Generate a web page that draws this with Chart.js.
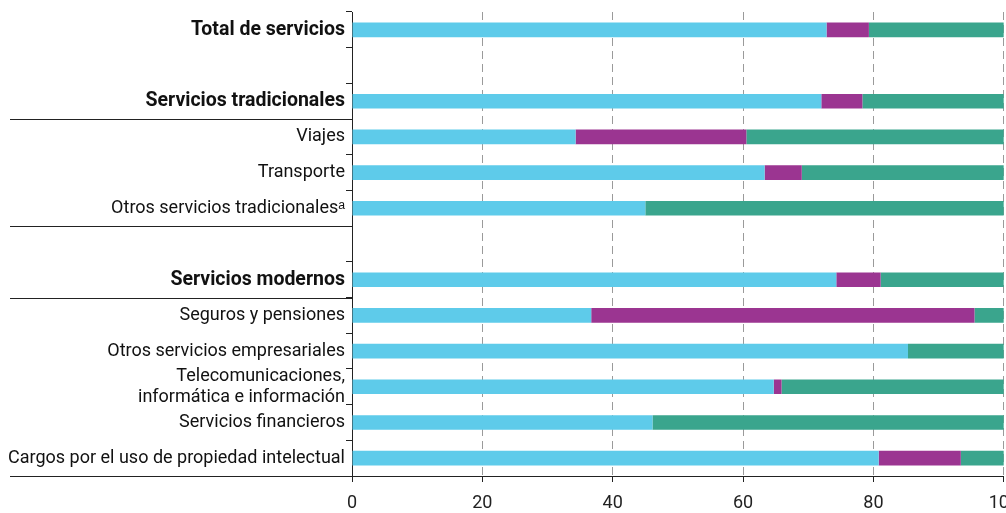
<!DOCTYPE html>
<html>
<head>
<meta charset="utf-8">
<script src="https://cdn.jsdelivr.net/npm/chart.js@4.4.0/dist/chart.umd.min.js"></script>
<style>
  html, body { margin: 0; padding: 0; background: #fff; overflow: hidden; }
  #wrap { width: 1030px; height: 513px; position: relative; }
</style>
</head>
<body>
<div id="wrap"><canvas id="chart"></canvas></div>
<script>
// --- datos ---
const categorias = [
    'Total de servicios', '',
    'Servicios tradicionales', 'Viajes', 'Transporte', 'Otros servicios tradicionalesᵃ', '',
    'Servicios modernos', 'Seguros y pensiones', 'Otros servicios empresariales',
    ['Telecomunicaciones,', 'informática e información'],
    'Servicios financieros', 'Cargos por el uso de propiedad intelectual'
];
const serieAzul    = [72.8, null, 72.0, 34.3, 63.3, 45.0, null, 74.3, 36.7, 85.3, 64.7, 46.1, 80.8];
const serieMorada  = [6.5,  null, 6.3,  26.2, 5.7,  0,    null, 6.8,  58.8, 0,    1.2,  0,    12.6];
const serieVerde   = [20.7, null, 21.7, 39.5, 31.0, 55.0, null, 18.9, 4.5,  14.7, 34.1, 53.9, 6.6];
const negritas = [0, 2, 7];
const separadores = [2, 5, 7, 12]; // línea larga debajo de estas filas
const ticksX = [0, 20, 40, 60, 80, 100];

const FUENTE = "Roboto, 'Liberation Sans Narrow', sans-serif";

// líneas largas a la izquierda del eje
const separadoresPlugin = {
    id: 'separadores',
    afterDraw(chart) {
        const y = chart.scales.y, ctx = chart.ctx;
        const paso = y.getPixelForValue(1) - y.getPixelForValue(0);
        ctx.save();
        ctx.strokeStyle = '#222';
        ctx.lineWidth = 1;
        separadores.forEach(i => {
            const py = Math.round(y.getPixelForValue(i) + paso / 2) + 0.5;
            ctx.beginPath();
            ctx.moveTo(10, py);
            ctx.lineTo(chart.chartArea.left, py);
            ctx.stroke();
        });
        ctx.restore();
    }
};

new Chart(document.getElementById('chart'), {
    type: 'bar',
    data: {
        labels: categorias,
        datasets: [
            { label: 'A', data: serieAzul,   backgroundColor: '#5ecbea' },
            { label: 'B', data: serieMorada, backgroundColor: '#9b3591' },
            { label: 'C', data: serieVerde,  backgroundColor: '#3aa58d' }
        ]
    },
    options: {
        indexAxis: 'y',
        responsive: true, maintainAspectRatio: false, animation: false,
        categoryPercentage: 1, barPercentage: 0.41,
        layout: { padding: { top: 12, left: 0, right: 0, bottom: 0 } },
        plugins: { legend: { display: false }, tooltip: { enabled: false } },
        scales: {
            x: {
                stacked: true, min: 0, max: 100,
                afterBuildTicks: s => { s.ticks = ticksX.map(v => ({ value: v })); },
                afterFit: s => { s.height = 37; },
                border: { display: true, color: '#222', width: 1, dash: [8, 5] },
                grid: {
                    color: c => c.tick && c.tick.value === 0 ? 'rgba(0,0,0,0)' : '#9a9a9a',
                    tickBorderDash: [0, 0],
                    tickColor: '#222', tickLength: 6, lineWidth: 1
                },
                ticks: { color: '#222', padding: 11, font: { family: FUENTE, size: 18 }, maxRotation: 0 }
            },
            y: {
                stacked: true,
                afterFit: s => { s.width = 352; },
                border: { display: true, color: '#222', width: 1 },
                grid: { drawOnChartArea: false, offset: true, tickLength: 6, tickColor: '#222', color: '#222' },
                ticks: {
                    autoSkip: false, color: '#111', padding: 1,
                    font: c => negritas.includes(c.index)
                        ? { family: FUENTE, size: 19.5, weight: 'bold', lineHeight: 1.15 }
                        : { family: FUENTE, size: 18, weight: 'normal', lineHeight: 1.15 }
                }
            }
        }
    },
    plugins: [separadoresPlugin]
});
</script>
</body>
</html>
